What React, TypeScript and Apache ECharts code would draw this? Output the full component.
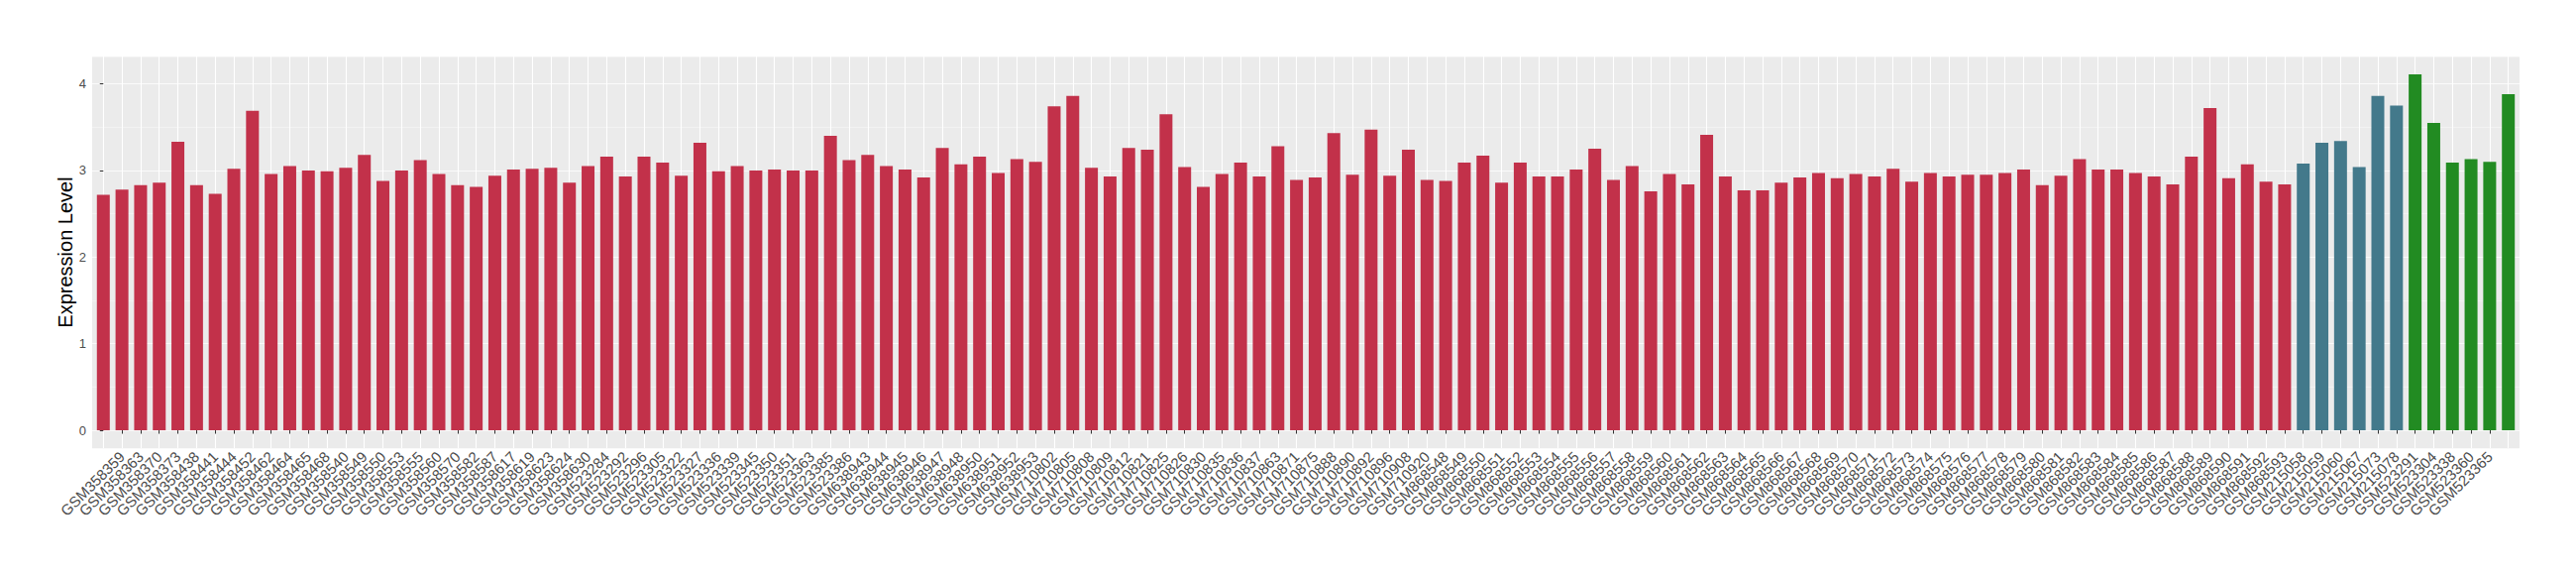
import React, { useEffect, useRef } from "react";
import * as echarts from "echarts";

const samplesRed = [
  "GSM358358", "GSM358359", "GSM358363", "GSM358370", "GSM358373", "GSM358438", "GSM358441", "GSM358444", "GSM358452", "GSM358462", "GSM358464", "GSM358465", "GSM358468",
  "GSM358540", "GSM358549", "GSM358550", "GSM358553", "GSM358555", "GSM358560", "GSM358570", "GSM358582", "GSM358587", "GSM358617", "GSM358619", "GSM358623", "GSM358624",
  "GSM358630", "GSM523284", "GSM523292", "GSM523296", "GSM523305", "GSM523322", "GSM523327", "GSM523336", "GSM523339", "GSM523345", "GSM523350", "GSM523351", "GSM523363",
  "GSM523385", "GSM523386", "GSM638943", "GSM638944", "GSM638945", "GSM638946", "GSM638947", "GSM638948", "GSM638950", "GSM638951", "GSM638952", "GSM638953", "GSM710802",
  "GSM710805", "GSM710808", "GSM710809", "GSM710812", "GSM710821", "GSM710825", "GSM710826", "GSM710830", "GSM710835", "GSM710836", "GSM710837", "GSM710863", "GSM710871", "GSM710875",
  "GSM710888", "GSM710890", "GSM710892", "GSM710896", "GSM710908", "GSM710920", "GSM868548", "GSM868549", "GSM868550", "GSM868551", "GSM868552", "GSM868553", "GSM868554",
  "GSM868555", "GSM868556", "GSM868557", "GSM868558", "GSM868559", "GSM868560", "GSM868561", "GSM868562", "GSM868563", "GSM868564", "GSM868565", "GSM868566", "GSM868567",
  "GSM868568", "GSM868569", "GSM868570", "GSM868571", "GSM868572", "GSM868573", "GSM868574", "GSM868575", "GSM868576", "GSM868577", "GSM868578", "GSM868579", "GSM868580",
  "GSM868581", "GSM868582", "GSM868583", "GSM868584", "GSM868585", "GSM868586", "GSM868587", "GSM868588", "GSM868589", "GSM868590", "GSM868591", "GSM868592", "GSM868593",
];
const valuesRed = [
  2.72, 2.78, 2.83, 2.86, 3.33, 2.83, 2.73, 3.02, 3.69, 2.96, 3.05, 3.0, 2.99,
  3.03, 3.18, 2.88, 3.0, 3.12, 2.96, 2.83, 2.81, 2.94, 3.01, 3.02, 3.03, 2.86,
  3.05, 3.16, 2.93, 3.16, 3.09, 2.94, 3.32, 2.99, 3.05, 3.0, 3.01, 3.0, 3.0,
  3.4, 3.12, 3.18, 3.05, 3.01, 2.92, 3.26, 3.07, 3.16, 2.97, 3.13, 3.1, 3.74,
  3.86, 3.03, 2.93, 3.26, 3.24, 3.65, 3.04, 2.81, 2.96, 3.09, 2.93, 3.28, 2.89, 2.92,
  3.43, 2.95, 3.47, 2.94, 3.24, 2.89, 2.88, 3.09, 3.17, 2.86, 3.09, 2.93, 2.93,
  3.01, 3.25, 2.89, 3.05, 2.76, 2.96, 2.84, 3.41, 2.93, 2.77, 2.77, 2.86, 2.92,
  2.97, 2.91, 2.96, 2.93, 3.02, 2.87, 2.97, 2.93, 2.95, 2.95, 2.97, 3.01, 2.83,
  2.94, 3.13, 3.01, 3.01, 2.97, 2.93, 2.84, 3.16, 3.72, 2.91, 3.07, 2.87, 2.84,
];
const samplesBlue = ["GSM215058", "GSM215059", "GSM215060", "GSM215067", "GSM215073", "GSM215078"];
const valuesBlue = [3.08, 3.32, 3.34, 3.04, 3.86, 3.75];
const samplesGreen = ["GSM523291", "GSM523304", "GSM523338", "GSM523360", "GSM523365", "GSM523377"];
const valuesGreen = [4.11, 3.55, 3.09, 3.13, 3.1, 3.88];

const yTicks = [0, 1, 2, 3, 4];
const colorRed = "#C2314A";
const colorBlue = "#43798B";
const colorGreen = "#228B22";

const FONT = "'Liberation Sans', Arial, Helvetica, sans-serif";

export default function App() {
  const ref = useRef<HTMLDivElement>(null);

  useEffect(() => {
    if (!ref.current) return;
    const chart = echarts.init(ref.current, null, { renderer: "svg" });

    const groups = [
      { names: samplesRed, values: valuesRed, color: colorRed },
      { names: samplesBlue, values: valuesBlue, color: colorBlue },
      { names: samplesGreen, values: valuesGreen, color: colorGreen },
    ];
    const categories: string[] = [];
    const data: any[] = [];
    groups.forEach((g) => {
      g.names.forEach((n, k) => {
        const i = categories.length;
        categories.push(n);
        data.push({ value: [i, g.values[k]], itemStyle: { color: g.color } });
      });
    });
    const n = categories.length;
    const idx = categories.map((_, i) => i);
    const maxV = Math.max(...valuesRed, ...valuesBlue, ...valuesGreen);
    const yMin = -0.05 * maxV;
    const yMax = 1.05 * maxV;

    chart.setOption({
      animation: false,
      backgroundColor: "#FFFFFF",
      tooltip: { show: false },
      grid: {
        left: 93,
        right: 57,
        top: 57,
        bottom: 128,
        show: true,
        backgroundColor: "#EBEBEB",
        borderWidth: 0,
      },
      xAxis: {
        type: "value",
        min: -0.6,
        max: n - 1 + 0.6,
        splitNumber: n,
        axisLine: { show: false },
        axisTick: {
          show: true,
          customValues: idx,
          length: 3.5,
          lineStyle: { color: "#333333", width: 1 },
        },
        axisLabel: {
          customValues: idx,
          formatter: (v: number) => (Number.isInteger(v) && categories[v] ? categories[v] : ""),
          rotate: 45,
          fontSize: 15,
          fontFamily: FONT,
          color: "#4D4D4D",
          margin: 6,
          hideOverlap: false,
        },
        splitLine: { show: true, lineStyle: { color: "#FFFFFF", width: 1.1 } },
      },
      yAxis: [
        {
          type: "value",
          min: yMin,
          max: yMax,
          splitNumber: 5,
          axisLine: { show: false },
          axisTick: {
            show: true,
            customValues: yTicks,
            length: 3.5,
            lineStyle: { color: "#333333", width: 1 },
          },
          axisLabel: {
            customValues: yTicks,
            fontSize: 13,
            fontFamily: FONT,
            color: "#4D4D4D",
            margin: 6,
          },
          splitLine: { show: true, lineStyle: { color: "#FFFFFF", width: 1.1 } },
          name: "Expression Level",
          nameLocation: "middle",
          nameRotate: 90,
          nameGap: 17,
          nameMoveOverlap: false,
          nameTextStyle: { fontSize: 20, fontFamily: FONT, color: "#000000" },
        },
        {
          type: "value",
          position: "left",
          min: yMin * 2,
          max: yMax * 2,
          splitNumber: 9,
          axisLine: { show: false },
          axisTick: { show: false },
          axisLabel: { show: false },
          splitLine: { show: true, lineStyle: { color: "#F7F7F7", width: 0.6 } },
        },
      ],
      series: [
        {
          type: "bar",
          yAxisIndex: 0,
          barWidth: 13,
          data,
        },
      ],
    });

    return () => chart.dispose();
  }, []);

  return (
    <div
      ref={ref}
      style={{ position: "absolute", left: 0, top: 0, width: 2600, height: 580 }}
    />
  );
}
